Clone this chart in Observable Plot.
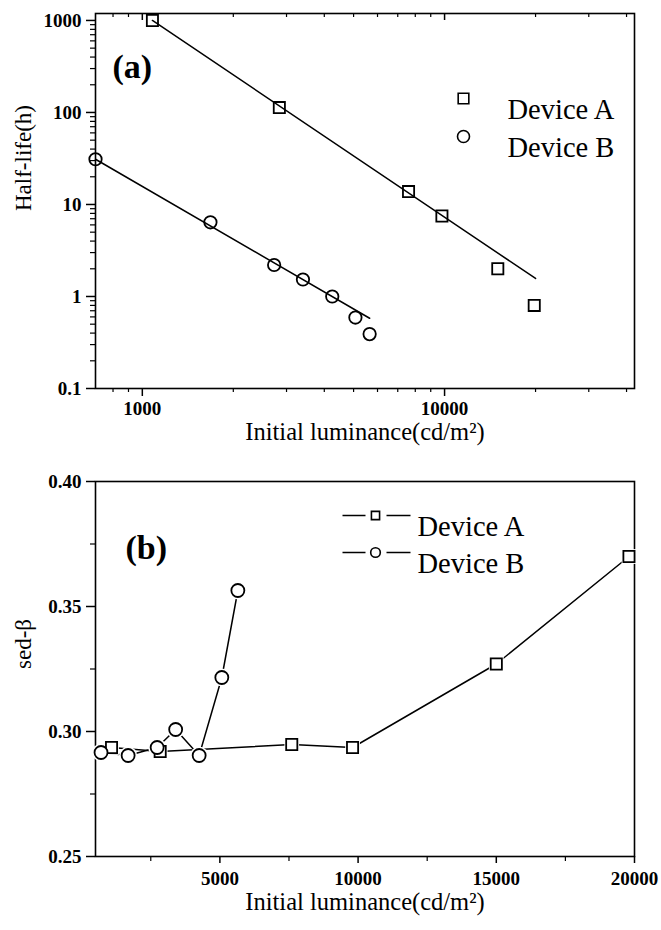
<!DOCTYPE html>
<html><head><meta charset="utf-8">
<script src="https://cdn.jsdelivr.net/npm/d3@7"></script>
<script src="https://cdn.jsdelivr.net/npm/@observablehq/plot@0.6"></script>
<style>
html,body{margin:0;padding:0;background:#fff;overflow:hidden;}
#chart svg{display:block;overflow:visible;font-family:"Liberation Serif","Times New Roman",Times,serif !important;}
#chart svg text{font-family:"Liberation Serif","Times New Roman",Times,serif !important;}
</style></head><body><div id="chart"></div>
<script>
// ---------- Panel (a) data ----------
const devALum = [1080, 2840, 7600, 9800, 15000, 19800];
const devAHalfLife = [1000, 113, 13.8, 7.5, 2.0, 0.8];
const devBLum = [700, 1680, 2730, 3400, 4250, 5070, 5650];
const devBHalfLife = [31, 6.4, 2.2, 1.53, 1.0, 0.59, 0.39];
const fitALum = [1080, 20000];
const fitAHalfLife = [1000, 1.57];
const fitBLum = [700, 5650];
const fitBHalfLife = [31, 0.58];
// ---------- Panel (b) data ----------
const devASedBeta = [0.2936, 0.2920, 0.2948, 0.2936, 0.3270, 0.3700];
const devBSedBeta = [0.2916, 0.2904, 0.2936, 0.3008, 0.2904, 0.3216, 0.3564];
// ---------- labels ----------
const seriesNames = ["Device A", "Device B"];
const seriesSymbols = ["square", "circle"];
const panelLabels = ["(a)", "(b)"];
const xTitle = "Initial luminance(cd/m²)";
const yTitleA = "Half-life(h)";
const yTitleB = "sed-β";
// ---------- ticks ----------
const aXMajor = [1000, 10000];
const aXMinor = [800, 900, 2000, 3000, 4000, 5000, 6000, 7000, 8000, 9000, 20000, 30000, 40000];
const aYMajor = [0.1, 1, 10, 100, 1000];
const aYMajorLabels = ["0.1", "1", "10", "100", "1000"];
const aYMinor = [0.2, 0.3, 0.4, 0.5, 0.6, 0.7, 0.8, 0.9, 2, 3, 4, 5, 6, 7, 8, 9,
  20, 30, 40, 50, 60, 70, 80, 90, 200, 300, 400, 500, 600, 700, 800, 900];
const bXMajor = [5000, 10000, 15000, 20000];
const bXMinor = [2500, 7500, 12500, 17500];
const bYMajor = [0.25, 0.30, 0.35, 0.40];
const bYMajorLabels = ["0.25", "0.30", "0.35", "0.40"];
const bYMinor = [0.275, 0.325, 0.375];

const zipXY = (xs, ys) => xs.map((x, i) => ({x, y: ys[i]}));
const FONT = "Liberation Serif";
const W = 661;

// ---------- Panel (a) ----------
const aTop = 13, aBottom = 77, aH = 465;
const aPlotH = aH - aTop - aBottom;
const lineDash = {draw(ctx) { ctx.moveTo(-33, 0); ctx.lineTo(-10, 0); ctx.moveTo(11, 0); ctx.lineTo(35, 0); }};

const plotA = Plot.plot({
  width: W, height: aH,
  marginLeft: 95, marginRight: 27, marginTop: aTop, marginBottom: aBottom,
  style: {fontFamily: FONT, color: "black", background: "white"},
  x: {type: "log", domain: [700, 42500]},
  y: {type: "log", domain: [0.1, 1190]},
  marks: [
    Plot.frame({stroke: "black", strokeWidth: 1.6}),
    Plot.axisY(aYMajor, {tickSize: 9, tickPadding: 5, strokeWidth: 1.5,
      tickFormat: d => aYMajorLabels[aYMajor.indexOf(d)],
      fontSize: 19, fontWeight: "bold", fontFamily: FONT, label: null}),
    Plot.axisY(aYMinor, {tickSize: 5, strokeWidth: 1.2, tickFormat: () => "", label: null}),
    Plot.axisX(aXMajor, {tickSize: 8, tickPadding: 5, strokeWidth: 1.5,
      tickFormat: d => String(d), fontSize: 19, fontWeight: "bold", fontFamily: FONT, label: null}),
    Plot.axisX(aXMinor, {tickSize: 4, strokeWidth: 1.2, tickFormat: () => "", label: null}),
    Plot.tickX(aXMinor, {x: d => d, insetBottom: aPlotH - 4, stroke: "black", strokeWidth: 1.2}),
    Plot.tickX(aXMajor, {x: d => d, insetBottom: aPlotH - 7, stroke: "black", strokeWidth: 1.5}),
    Plot.line(zipXY(fitALum, fitAHalfLife), {x: "x", y: "y", stroke: "black", strokeWidth: 1.5}),
    Plot.line(zipXY(fitBLum, fitBHalfLife), {x: "x", y: "y", stroke: "black", strokeWidth: 1.5}),
    Plot.dot(zipXY(devALum, devAHalfLife), {x: "x", y: "y", symbol: "square", r: 6.3, fill: "none", stroke: "black", strokeWidth: 1.8}),
    Plot.dot(zipXY(devBLum, devBHalfLife), {x: "x", y: "y", symbol: "circle", r: 6.2, fill: "none", stroke: "black", strokeWidth: 1.8}),
    // panel label
    Plot.text([panelLabels[0]], {text: d => d, frameAnchor: "top-left", dx: 17, dy: 40,
      textAnchor: "start", fontSize: 34, fontWeight: "bold", fontFamily: FONT}),
    // legend
    ...seriesNames.flatMap((name, i) => [
      Plot.dot([name], {frameAnchor: "top-left", dx: 368, dy: 85 + i * 38, symbol: seriesSymbols[i],
        r: 6, fill: "none", stroke: "black", strokeWidth: 1.6}),
      Plot.text([name], {text: d => d, frameAnchor: "top-left", dx: 412, dy: 85 + i * 38,
        textAnchor: "start", fontSize: 28.5, fontFamily: FONT})
    ]),
    // axis titles
    Plot.text([xTitle], {text: d => d, frameAnchor: "bottom", dy: 51, fontSize: 24.5, fontFamily: FONT}),
    Plot.text([yTitleA], {text: d => d, frameAnchor: "left", dx: -72, dy: 10, rotate: -90, fontSize: 23, fontFamily: FONT})
  ]
});

// ---------- Panel (b) ----------
const bTop = 16, bBottom = 74, bH = 465;
const plotB = Plot.plot({
  width: W, height: bH,
  marginLeft: 95, marginRight: 27, marginTop: bTop, marginBottom: bBottom,
  style: {fontFamily: FONT, color: "black", background: "white"},
  x: {domain: [500, 20000]},
  y: {domain: [0.25, 0.40]},
  marks: [
    Plot.frame({stroke: "black", strokeWidth: 1.6}),
    Plot.axisY(bYMajor, {tickSize: 9, tickPadding: 5, strokeWidth: 1.5,
      tickFormat: d => bYMajorLabels[bYMajor.indexOf(d)],
      fontSize: 19, fontWeight: "bold", fontFamily: FONT, label: null}),
    Plot.axisY(bYMinor, {tickSize: 5, strokeWidth: 1.2, tickFormat: () => "", label: null}),
    Plot.axisX(bXMajor, {tickSize: 7, tickPadding: 8, strokeWidth: 1.5,
      tickFormat: d => String(d), fontSize: 19, fontWeight: "bold", fontFamily: FONT, label: null}),
    Plot.axisX(bXMinor, {tickSize: 5, strokeWidth: 1.2, tickFormat: () => "", label: null}),
    Plot.line(zipXY(devALum, devASedBeta), {x: "x", y: "y", stroke: "black", strokeWidth: 1.5}),
    Plot.line(zipXY(devBLum, devBSedBeta), {x: "x", y: "y", stroke: "black", strokeWidth: 1.5}),
    // white halos give the small gap between line ends and markers
    Plot.dot(zipXY(devALum, devASedBeta), {x: "x", y: "y", symbol: "square", r: 8.3, fill: "white", stroke: "none"}),
    Plot.dot(zipXY(devBLum, devBSedBeta), {x: "x", y: "y", symbol: "circle", r: 9, fill: "white", stroke: "none"}),
    Plot.dot(zipXY(devALum, devASedBeta), {x: "x", y: "y", symbol: "square", r: 6.3, fill: "white", stroke: "black", strokeWidth: 1.8}),
    Plot.dot(zipXY(devBLum, devBSedBeta), {x: "x", y: "y", symbol: "circle", r: 6.5, fill: "white", stroke: "black", strokeWidth: 1.8}),
    Plot.text([panelLabels[1]], {text: d => d, frameAnchor: "top-left", dx: 30, dy: 53,
      textAnchor: "start", fontSize: 34, fontWeight: "bold", fontFamily: FONT}),
    ...seriesNames.flatMap((name, i) => [
      Plot.dot([name], {frameAnchor: "top-left", dx: 280, dy: 34 + i * 37, symbol: lineDash,
        r: 5, fill: "none", stroke: "black", strokeWidth: 1.5}),
      Plot.dot([name], {frameAnchor: "top-left", dx: 280, dy: 34 + i * 37, symbol: seriesSymbols[i],
        r: seriesSymbols[i] === "square" ? 4.6 : 4.8, fill: "white", stroke: "black", strokeWidth: 1.6}),
      Plot.text([name], {text: d => d, frameAnchor: "top-left", dx: 322, dy: 34 + i * 37,
        textAnchor: "start", fontSize: 28.5, fontFamily: FONT})
    ]),
    Plot.text([xTitle], {text: d => d, frameAnchor: "bottom", dy: 53, fontSize: 24.5, fontFamily: FONT}),
    Plot.text([yTitleB], {text: d => d, frameAnchor: "left", dx: -72, dy: 0, rotate: -90, fontSize: 23, fontFamily: FONT})
  ]
});

const chart = document.getElementById("chart");
chart.appendChild(plotA);
chart.appendChild(plotB);
</script>
</body></html>
